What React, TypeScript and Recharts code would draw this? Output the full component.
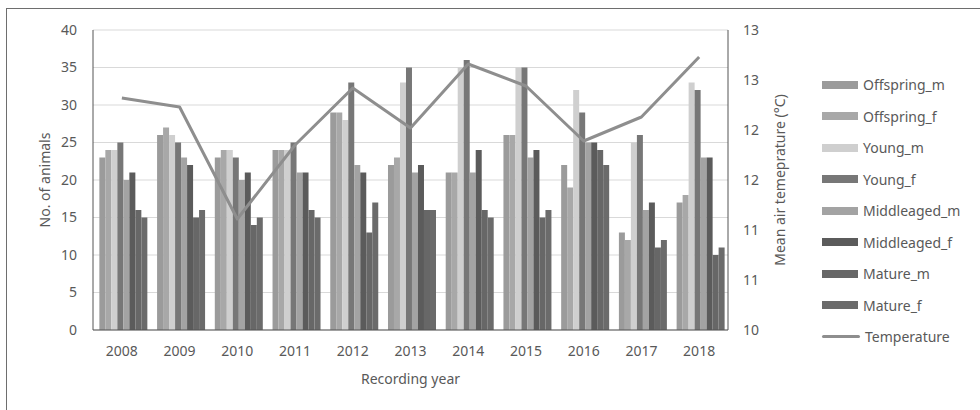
import {
  Bar,
  CartesianGrid,
  ComposedChart,
  Legend,
  Line,
  XAxis,
  YAxis,
} from "recharts";

// recording years on the x axis
const YEARS = ["2008", "2009", "2010", "2011", "2012", "2013", "2014", "2015", "2016", "2017", "2018"];

// number of animals per class and year
const OFFSPRING_M = [23, 26, 23, 24, 29, 22, 21, 26, 22, 13, 17];
const OFFSPRING_F = [24, 27, 24, 24, 29, 23, 21, 26, 19, 12, 18];
const YOUNG_M = [24, 26, 24, 24, 28, 33, 35, 35, 32, 25, 33];
const YOUNG_F = [25, 25, 23, 25, 33, 35, 36, 35, 29, 26, 32];
const MIDDLEAGED_M = [20, 23, 20, 21, 22, 21, 21, 23, 25, 16, 23];
const MIDDLEAGED_F = [21, 22, 21, 21, 21, 22, 24, 24, 25, 17, 23];
const MATURE_M = [16, 15, 14, 16, 13, 16, 16, 15, 24, 11, 10];
const MATURE_F = [15, 16, 15, 15, 17, 16, 15, 16, 22, 12, 11];

// mean air temperature (°C)
const TEMPERATURE = [12.32, 12.23, 11.11, 11.85, 12.42, 12.02, 12.66, 12.44, 11.89, 12.13, 12.73];

const LEFT_TICKS = [0, 5, 10, 15, 20, 25, 30, 35, 40];
const RIGHT_TICKS = [10, 10.5, 11, 11.5, 12, 12.5, 13];

const SERIES = [
  { name: "Offspring_m", values: OFFSPRING_M },
  { name: "Offspring_f", values: OFFSPRING_F },
  { name: "Young_m", values: YOUNG_M },
  { name: "Young_f", values: YOUNG_F },
  { name: "Middleaged_m", values: MIDDLEAGED_M },
  { name: "Middleaged_f", values: MIDDLEAGED_F },
  { name: "Mature_m", values: MATURE_M },
  { name: "Mature_f", values: MATURE_F },
];

const COLORS: Record<string, string> = {
  Offspring_m: "#9b9b9b",
  Offspring_f: "#a8a8a8",
  Young_m: "#cfcfcf",
  Young_f: "#777777",
  Middleaged_m: "#a3a3a3",
  Middleaged_f: "#5b5b5b",
  Mature_m: "#676767",
  Mature_f: "#6b6b6b",
  Temperature: "#8e8e8e",
};

const ORDER = [...SERIES.map((s) => s.name), "Temperature"];

const data = YEARS.map((year, i) => {
  const row: Record<string, string | number> = { year, Temperature: TEMPERATURE[i] };
  SERIES.forEach((s) => {
    row[s.name] = s.values[i];
  });
  return row;
});

const FONT = "'Noto Sans', 'Open Sans', sans-serif";
const TEXT = "#595959";
const tickStyle = { fill: TEXT, fontSize: 14, fontFamily: FONT };

function LegendList(props: any) {
  const items = [...(props.payload ?? [])].sort(
    (a: any, b: any) => ORDER.indexOf(a.value) - ORDER.indexOf(b.value)
  );
  return (
    <div style={{ display: "flex", flexDirection: "column", fontFamily: FONT }}>
      {items.map((item: any) => (
        <div key={item.value} style={{ height: 31.5, display: "flex", alignItems: "center" }}>
          {item.value === "Temperature" ? (
            <span style={{ width: 38, height: 3, borderRadius: 2, background: COLORS.Temperature }} />
          ) : (
            <span style={{ width: 36, height: 8, background: COLORS[item.value] }} />
          )}
          <span style={{ marginLeft: 5, fontSize: 14, color: TEXT }}>{item.value}</span>
        </div>
      ))}
    </div>
  );
}

export default function App() {
  return (
    <div style={{ width: 972, height: 402 }}>
      <div
        style={{
          position: "absolute",
          left: 6,
          top: 8,
          width: 974,
          height: 402,
          boxSizing: "border-box",
          borderLeft: "1px solid #6e6e6e",
          borderTop: "1px solid #6e6e6e",
          overflow: "hidden",
        }}
      >
        <div style={{ position: "absolute", left: 1, top: -1 }}>
          <ComposedChart
            width={972}
            height={402}
            data={data}
            margin={{ top: 22, right: 192, bottom: 20, left: 0 }}
            barCategoryGap="11%"
            barGap={0}
          >
            <CartesianGrid vertical={false} stroke="#d9d9d9" yAxisId="left" />
            <XAxis
              dataKey="year"
              height={60}
              tickLine={false}
              tickSize={0}
              tickMargin={16}
              axisLine={{ stroke: "#555555" }}
              tick={tickStyle}
              label={{
                value: "Recording year",
                position: "insideBottom",
                offset: 6,
                style: { fill: TEXT, fontSize: 14, fontFamily: FONT },
              }}
            />
            <YAxis
              yAxisId="left"
              width={85}
              domain={[0, 40]}
              ticks={LEFT_TICKS}
              interval={0}
              tickLine={false}
              tickSize={0}
              tickMargin={16}
              axisLine={{ stroke: "#555555" }}
              tick={tickStyle}
              label={{
                value: "No. of animals",
                angle: -90,
                position: "insideLeft",
                offset: 37,
                style: { fill: TEXT, fontSize: 14, fontFamily: FONT, textAnchor: "middle" },
              }}
            />
            <YAxis
              yAxisId="right"
              orientation="right"
              width={60}
              domain={[10, 13]}
              ticks={RIGHT_TICKS}
              interval={0}
              tickFormatter={(v: number) => String(Math.round(v))}
              tickLine={false}
              tickSize={0}
              tickMargin={15}
              axisLine={{ stroke: "#555555" }}
              tick={tickStyle}
              label={{
                value: "Mean air temeprature (°C)",
                angle: -90,
                position: "insideLeft",
                offset: 52,
                style: { fill: TEXT, fontSize: 14, fontFamily: FONT, textAnchor: "middle" },
              }}
            />
            {SERIES.map((s) => (
              <Bar
                key={s.name}
                yAxisId="left"
                dataKey={s.name}
                name={s.name}
                fill={COLORS[s.name]}
                isAnimationActive={false}
              />
            ))}
            <Line
              yAxisId="right"
              type="linear"
              dataKey="Temperature"
              name="Temperature"
              stroke={COLORS.Temperature}
              strokeWidth={3}
              strokeLinejoin="round"
              dot={false}
              activeDot={false}
              isAnimationActive={false}
            />
            <Legend
              layout="vertical"
              align="center"
              verticalAlign="middle"
              content={LegendList}
              wrapperStyle={{ left: 814, top: 61, width: 160 }}
            />
          </ComposedChart>
        </div>
      </div>
    </div>
  );
}
